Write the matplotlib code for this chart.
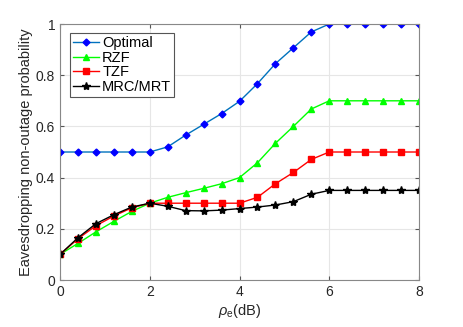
import matplotlib
matplotlib.use('Agg')
import matplotlib.pyplot as plt
import numpy as np

plt.rcParams['font.family'] = ['Liberation Sans', 'DejaVu Sans']
plt.rcParams['mathtext.fontset'] = 'custom'
plt.rcParams['mathtext.rm'] = 'Liberation Sans'
plt.rcParams['mathtext.it'] = 'Liberation Sans:italic'

rho = np.arange(0, 8.01, 0.4)
optimal = [0.5, 0.5, 0.5, 0.5, 0.5, 0.5, 0.52, 0.566, 0.608, 0.65, 0.698,
           0.767, 0.845, 0.907, 0.969, 1.0, 1.0, 1.0, 1.0, 1.0, 1.0]
rzf = [0.1, 0.143, 0.188, 0.229, 0.268, 0.3, 0.323, 0.341, 0.358, 0.376, 0.4,
       0.458, 0.534, 0.6, 0.668, 0.7, 0.7, 0.7, 0.7, 0.7, 0.7]
tzf = [0.1, 0.161, 0.212, 0.25, 0.282, 0.3, 0.3, 0.3, 0.3, 0.3, 0.3,
       0.323, 0.376, 0.42, 0.471, 0.5, 0.5, 0.5, 0.5, 0.5, 0.5]
mrc = [0.1, 0.165, 0.22, 0.255, 0.285, 0.3, 0.288, 0.271, 0.27, 0.273, 0.279,
       0.285, 0.293, 0.306, 0.335, 0.35, 0.35, 0.35, 0.35, 0.35, 0.35]

fig = plt.figure(figsize=(4.63, 3.27), dpi=100)
ax = fig.add_axes([0.1296, 0.1437, 0.7754, 0.7829])

ax.plot(rho, optimal, color='#0072BD', lw=1, marker='D', ms=3.5,
        mfc='#0000FF', mec='#0000FF', label='Optimal')
ax.plot(rho, rzf, color='#00FF00', lw=1, marker='^', ms=5,
        mfc='#00FF00', mec='#00FF00', label='RZF')
ax.plot(rho, tzf, color='#FF0000', lw=1, marker='s', ms=4,
        mfc='#FF0000', mec='#FF0000', label='TZF')
ax.plot(rho, mrc, color='black', lw=1, marker='*', ms=6,
        mfc='black', mec='black', label='MRC/MRT')

ax.set_xlim(0, 8)
ax.set_ylim(0, 1)
ax.set_xticks([0, 2, 4, 6, 8])
ax.set_yticks([0, 0.2, 0.4, 0.6, 0.8, 1])
ax.set_yticklabels(['0', '0.2', '0.4', '0.6', '0.8', '1'])
ax.grid(True, color='#E6E6E6', lw=0.8)
ax.set_axisbelow(True)
ax.tick_params(direction='in', length=3, color='#555555', labelsize=10,
               labelcolor='#262626', top=True, right=True)
for s in ax.spines.values():
    s.set_color('#888888')
    s.set_linewidth(0.8)

ax.set_xlabel(r'$\rho_{\rm e}$(dB)', fontsize=10.5, color='#262626', labelpad=2)
ax.set_ylabel('Eavesdropping non-outage probability', fontsize=10.5,
              color='#262626', labelpad=2)
leg = ax.legend(loc='upper left', fontsize=10.5, fancybox=False, framealpha=1,
                edgecolor='#555555', handlelength=1.8, borderpad=0.2,
                labelspacing=0.05, handletextpad=0.2, borderaxespad=0,
                bbox_to_anchor=(0.028, 0.965))
leg.get_frame().set_linewidth(0.8)

fig.savefig('out.png', dpi=100)
